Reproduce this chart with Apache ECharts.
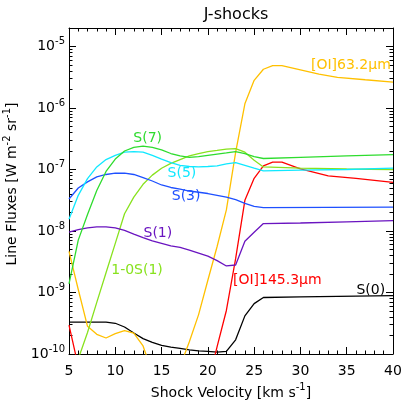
<!DOCTYPE html>
<html>
<head>
<meta charset="utf-8">
<script src="https://cdn.jsdelivr.net/npm/echarts@6/dist/echarts.min.js"></script>
<style>
html, body { margin: 0; padding: 0; background: #fff; }
#main { width: 411px; height: 411px; }
</style>
</head>
<body>
<div id="main"></div>
<script>
// J-shock models: line flux (W m-2 sr-1) against shock velocity (km/s)
var oi63 = [
  [5, 4.68e-9], [6, 1.12e-9], [7, 2.82e-10], [8, 2.09e-10], [9, 1.82e-10], [10, 2.14e-10],
  [11, 2.4e-10], [12, 2.19e-10], [13, 1.35e-10], [14, 5.0e-11], [15, 2.0e-11], [16, 2.5e-11],
  [17, 6.3e-11], [18, 1.58e-10], [19, 4.37e-10], [20, 1.58e-9], [21, 5.6e-9], [22, 2.2e-8],
  [23, 1.9e-7], [24, 1.17e-6], [25, 2.82e-6], [26, 4.27e-6], [27, 4.9e-6], [28, 4.9e-6],
  [30, 4.17e-6], [32, 3.55e-6], [34, 3.16e-6], [37, 2.88e-6], [40, 2.63e-6]
];
var oi145 = [
  [5, 2.95e-10], [6, 6.3e-11], [20, 3.2e-11], [21, 1.32e-10], [22, 5.1e-10], [23, 3.55e-9],
  [24, 3.16e-8], [25, 7.2e-8], [26, 1.15e-7], [27, 1.32e-7], [28, 1.32e-7], [30, 1.02e-7],
  [33, 7.9e-8], [36, 7.2e-8], [40, 6.2e-8]
];
var s0 = [
  [5, 3.31e-10], [9, 3.31e-10], [10, 3.16e-10], [11, 2.75e-10], [12, 2.19e-10], [13, 1.78e-10],
  [14, 1.55e-10], [15, 1.38e-10], [16, 1.29e-10], [17, 1.23e-10], [18, 1.17e-10], [19, 1.12e-10],
  [20, 1.1e-10], [21, 1.07e-10], [22, 1.1e-10], [23, 1.7e-10], [24, 4.17e-10], [25, 6.6e-10],
  [26, 8.3e-10], [30, 8.5e-10], [40, 8.9e-10]
];
var s1 = [
  [5, 9.55e-9], [6, 1.05e-8], [7, 1.12e-8], [8, 1.17e-8], [9, 1.17e-8], [10, 1.12e-8],
  [11, 1.02e-8], [12, 8.9e-9], [13, 7.8e-9], [14, 6.9e-9], [15, 6.3e-9], [16, 5.75e-9],
  [17, 5.4e-9], [18, 4.9e-9], [19, 4.37e-9], [20, 3.9e-9], [21, 3.3e-9], [22, 2.7e-9],
  [23, 2.8e-9], [24, 6.8e-9], [25, 9.55e-9], [26, 1.32e-8], [30, 1.35e-8], [35, 1.41e-8],
  [40, 1.48e-8]
];
var s3 = [
  [5, 3.31e-8], [6, 5.0e-8], [7, 6.3e-8], [8, 7.6e-8], [9, 8.3e-8], [10, 8.7e-8],
  [11, 8.7e-8], [12, 8.3e-8], [13, 7.4e-8], [14, 6.5e-8], [15, 5.6e-8], [16, 5.1e-8],
  [17, 4.8e-8], [18, 4.47e-8], [19, 4.27e-8], [20, 4.07e-8], [21, 3.8e-8], [22, 3.55e-8],
  [23, 3.24e-8], [24, 2.82e-8], [25, 2.51e-8], [26, 2.4e-8], [40, 2.45e-8]
];
var s5 = [
  [5, 1.55e-8], [6, 3.8e-8], [7, 7.1e-8], [8, 1.1e-7], [9, 1.45e-7], [10, 1.7e-7],
  [11, 1.91e-7], [12, 1.95e-7], [13, 1.91e-7], [14, 1.7e-7], [15, 1.48e-7], [16, 1.29e-7],
  [17, 1.17e-7], [18, 1.12e-7], [19, 1.1e-7], [20, 1.12e-7], [21, 1.15e-7], [22, 1.23e-7],
  [23, 1.29e-7], [24, 1.17e-7], [25, 1.05e-7], [26, 9.5e-8], [30, 9.8e-8], [35, 1.0e-7],
  [40, 1.05e-7]
];
var s7 = [
  [5, 1.38e-9], [6, 7.1e-9], [7, 1.86e-8], [8, 4.57e-8], [9, 9.3e-8], [10, 1.48e-7],
  [11, 2.0e-7], [12, 2.29e-7], [13, 2.4e-7], [14, 2.29e-7], [15, 2.09e-7], [16, 1.82e-7],
  [17, 1.66e-7], [18, 1.58e-7], [19, 1.62e-7], [20, 1.7e-7], [21, 1.78e-7], [22, 1.86e-7],
  [23, 1.95e-7], [24, 1.82e-7], [25, 1.62e-7], [26, 1.51e-7], [30, 1.58e-7], [35, 1.66e-7],
  [40, 1.74e-7]
];
var h2_10s1 = [
  [5, 2.5e-11], [6, 8.3e-11], [7, 2.24e-10], [8, 6.9e-10], [9, 2.09e-9], [10, 6.3e-9],
  [11, 1.91e-8], [12, 3.55e-8], [13, 5.75e-8], [14, 8.1e-8], [15, 1.05e-7], [16, 1.26e-7],
  [17, 1.45e-7], [18, 1.66e-7], [19, 1.82e-7], [20, 1.95e-7], [21, 2.04e-7], [22, 2.14e-7],
  [23, 2.19e-7], [24, 1.91e-7], [25, 1.41e-7], [26, 1.1e-7], [30, 1.05e-7], [35, 1.02e-7],
  [40, 1.0e-7]
];

// where each curve's name is written, in data coordinates
var tagAt = {
  oi63: [35.45, 5.0e-6], oi145: [27.5, 1.55e-9], s0: [37.6, 1.1e-9], s1: [14.6, 9.1e-9],
  s3: [17.65, 3.7e-8], s5: [17.2, 8.5e-8], s7: [13.5, 3.2e-7], h2_10s1: [12.35, 2.3e-9]
};

var yMajor = [1e-10, 1e-9, 1e-8, 1e-7, 1e-6, 1e-5];
var yMinor = [];
yMajor.forEach(function (d) {
  for (var k = 2; k <= 9; k++) yMinor.push(k * d);
});

var FONT = 'DejaVu Sans';
var sup = { fontSize: 10, padding: [0, 0, 10, 0], fontFamily: FONT, color: '#000' };

var myChart = echarts.init(document.getElementById('main'), null, { renderer: 'canvas' });

function line(name, data, color, text) {
  return {
    name: name,
    type: 'line',
    data: data,
    symbol: 'none',
    smooth: false,
    lineStyle: { color: color, width: 1.3 },
    itemStyle: { color: color },
    markPoint: {
      symbol: 'circle',
      symbolSize: 1,
      itemStyle: { color: 'rgba(0,0,0,0)' },
      label: {
        show: true,
        position: 'inside',
        formatter: text,
        color: color,
        fontSize: 14,
        fontFamily: FONT
      },
      data: [{ coord: tagAt[name] }]
    }
  };
}

function yAxisDef(pos, major) {
  return {
    type: 'log',
    position: pos,
    min: 1e-10,
    max: 2e-5,
    axisLine: { show: major, lineStyle: { color: '#000', width: 1 } },
    axisTick: {
      show: true,
      inside: true,
      length: major ? 7 : 3.5,
      customValues: major ? yMajor : yMinor,
      lineStyle: { color: '#000' }
    },
    axisLabel: {
      show: major && pos === 'left',
      customValues: yMajor,
      margin: 4,
      color: '#000',
      fontSize: 14,
      fontFamily: FONT,
      formatter: function (v) {
        return '10{sup|' + Math.round(Math.log10(v)) + '}';
      },
      rich: { sup: sup }
    },
    splitLine: { show: false },
    name: major && pos === 'left' ? 'Line Fluxes [W m{sup|-2} sr{sup|-1}]' : '',
    nameLocation: 'middle',
    nameGap: 47,
    nameTextStyle: {
      color: '#000',
      fontSize: 14,
      fontFamily: FONT,
      padding: [0, 0, 0, 14],
      rich: { sup: sup }
    }
  };
}

function xAxisDef(pos) {
  return {
    type: 'value',
    position: pos,
    min: 5,
    max: 40,
    interval: 5,
    axisLine: { show: true, lineStyle: { color: '#000', width: 1 } },
    axisTick: { show: true, inside: true, length: 7, lineStyle: { color: '#000' } },
    minorTick: { show: true, splitNumber: 5, length: 3.5, lineStyle: { color: '#000' } },
    axisLabel: {
      show: pos === 'bottom',
      margin: 10,
      color: '#000',
      fontSize: 14,
      fontFamily: FONT
    },
    splitLine: { show: false },
    minorSplitLine: { show: false },
    name: pos === 'bottom' ? 'Shock Velocity [km s{sup|-1}]' : '',
    nameLocation: 'middle',
    nameGap: 25,
    nameTextStyle: { color: '#000', fontSize: 14, fontFamily: FONT, rich: { sup: sup } }
  };
}

var option = {
  animation: false,
  backgroundColor: '#fff',
  title: {
    text: 'J-shocks',
    left: 231,
    top: 2,
    textAlign: 'center',
    textStyle: { color: '#000', fontSize: 16, fontWeight: 'normal', fontFamily: FONT }
  },
  grid: { left: 69, right: 18, top: 28, bottom: 57, containLabel: false, outerBoundsMode: 'none' },
  xAxis: [xAxisDef('bottom'), xAxisDef('top')],
  yAxis: [yAxisDef('left', true), yAxisDef('left', false), yAxisDef('right', true), yAxisDef('right', false)],
  series: [
    line('s0', s0, '#000000', 'S(0)'),
    line('oi63', oi63, '#FFC000', '[OI]63.2μm'),
    line('oi145', oi145, '#FF0000', '[OI]145.3μm'),
    line('h2_10s1', h2_10s1, '#88E21E', '1-0S(1)'),
    line('s1', s1, '#6A14C0', 'S(1)'),
    line('s3', s3, '#1E50FF', 'S(3)'),
    line('s5', s5, '#10E8FF', 'S(5)'),
    line('s7', s7, '#2EDC2E', 'S(7)')
  ]
};

myChart.setOption(option);
</script>
</body>
</html>
